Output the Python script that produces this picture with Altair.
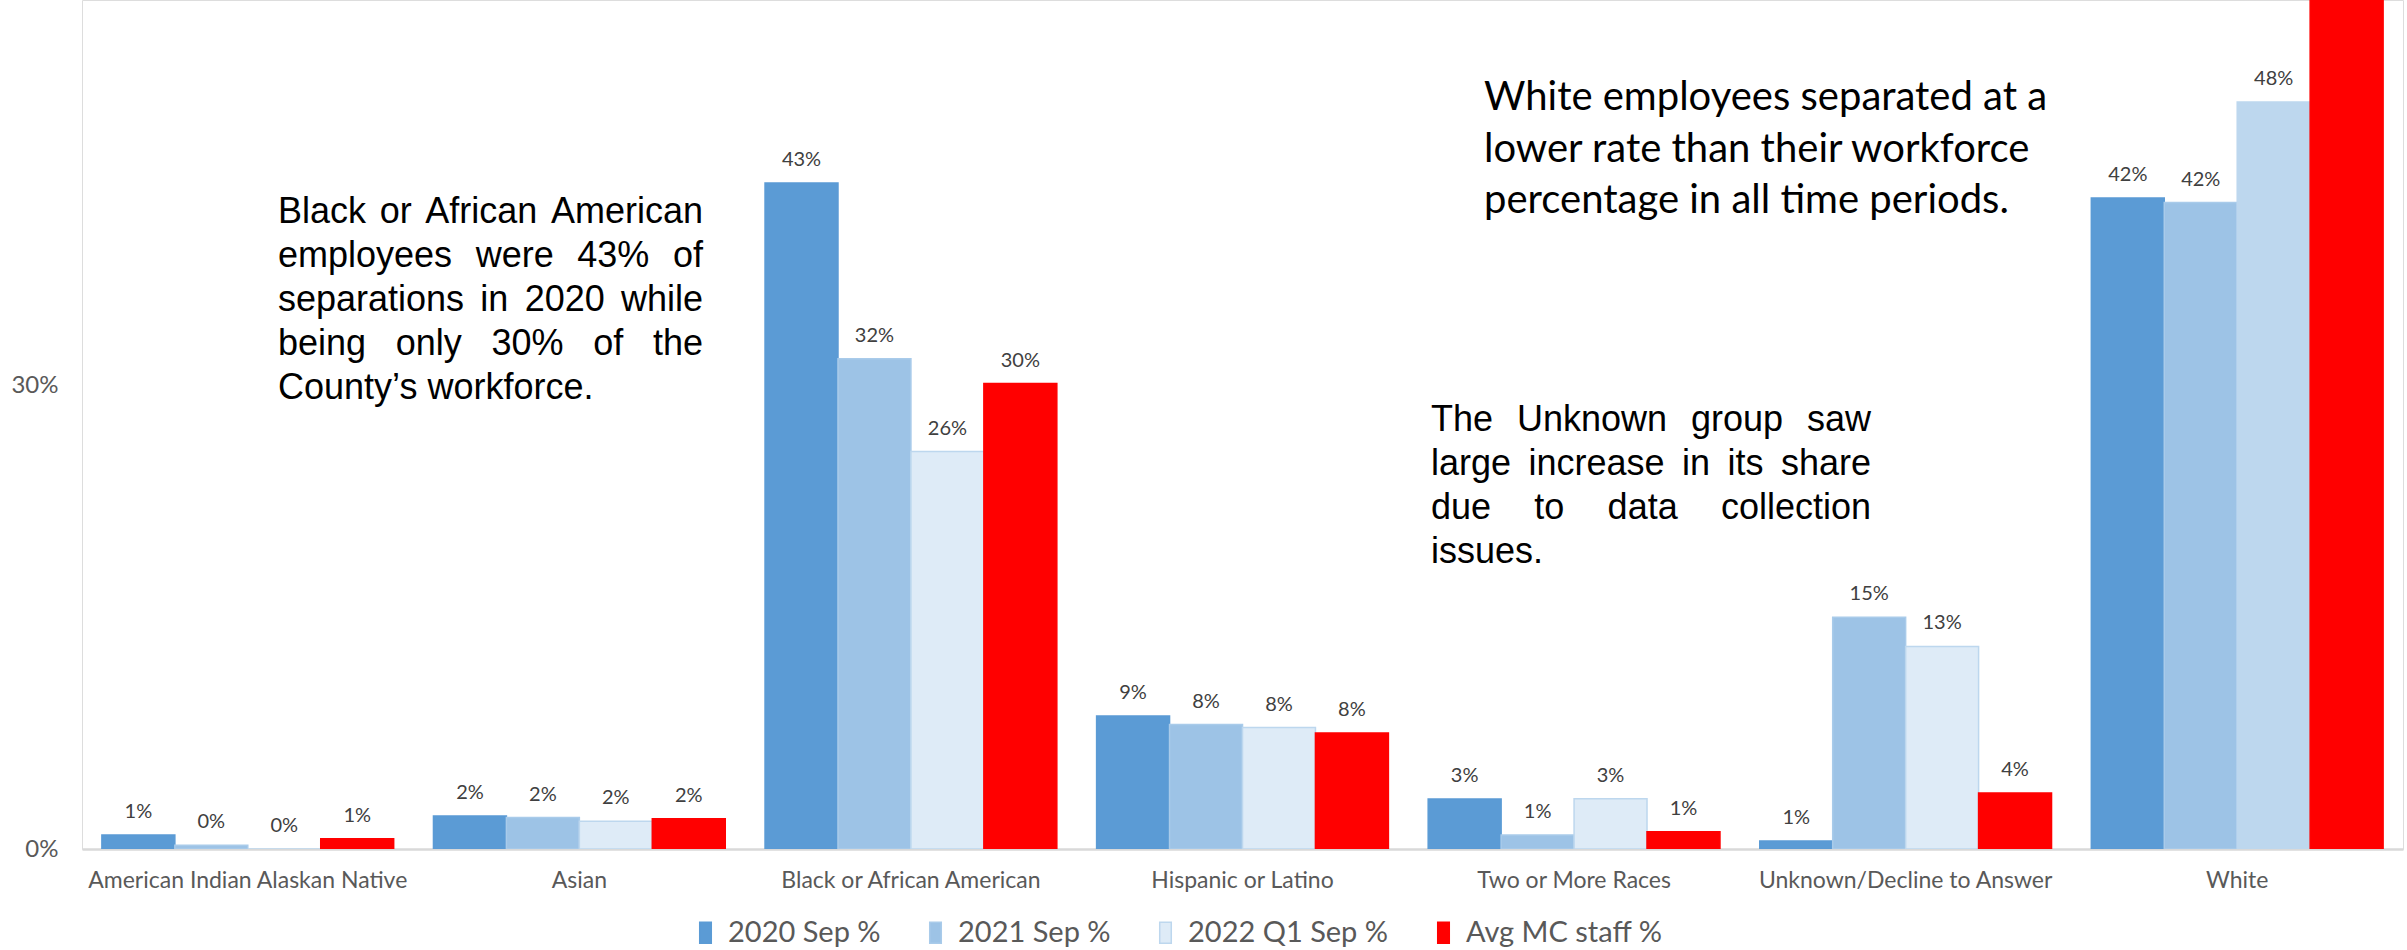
import altair as alt
import pandas as pd

# ---------------- data ----------------
categories = [
    "American Indian Alaskan Native",
    "Asian",
    "Black or African American",
    "Hispanic or Latino",
    "Two or More Races",
    "Unknown/Decline to Answer",
    "White",
]
series_names = ["2020 Sep %", "2021 Sep %", "2022 Q1 Sep %", "Avg MC staff %"]
sep_2020 = [0.9, 2.13, 43.07, 8.6, 3.23, 0.52, 42.1]
sep_2021 = [0.24, 2.03, 31.7, 8.05, 0.9, 14.98, 41.8]
sep_2022q1 = [0.0, 1.79, 25.7, 7.85, 3.25, 13.1, 48.3]
avg_staff = [0.67, 1.96, 30.1, 7.5, 1.12, 3.62, 55.0]
y_ticks = [0, 30]

note_black = [
    "Black or African American",
    "employees were 43% of",
    "separations in 2020 while",
    "being only 30% of the",
    "County\u2019s workforce.",
]
note_white = [
    "White employees separated at a",
    "lower rate than their workforce",
    "percentage in all time periods.",
]
note_unknown = [
    "The Unknown group saw",
    "large increase in its share",
    "due to data collection",
    "issues.",
]

# ---------------- styling ----------------
SANS = "Lato, sans-serif"
ARIAL = "Liberation Sans, Arial, sans-serif"
fills = ["#5B9BD5", "#9DC3E6", "#DEEBF7", "#FF0000"]
strokes = ["#5B9BD5", "#A9CBEA", "#BDD7EE", "#FF0000"]
Y_MAX = 54.9

rows = []
for s, vals in zip(series_names, [sep_2020, sep_2021, sep_2022q1, avg_staff]):
    for c, v in zip(categories, vals):
        rows.append({"category": c, "series": s, "value": v})
df = pd.DataFrame(rows)

# Arial / Liberation Sans advance widths (per 1000 em)
AW = {" ": 278, "%": 889, "\u2019": 222, ".": 278, ",": 278, "/": 278}
for ch in "0123456789":
    AW[ch] = 556
AW.update({"A": 667, "B": 667, "C": 722, "T": 611, "U": 722, "W": 944})
AW.update(dict(zip("abcdefghijklmnopqrstuvwxyz",
                   [556, 556, 500, 556, 556, 278, 556, 556, 222, 222, 500, 222, 833,
                    556, 556, 556, 556, 333, 500, 278, 556, 500, 722, 500, 500, 500])))


def text_w(s, size):
    return sum(AW.get(ch, 556) for ch in s) / 1000.0 * size


def justify(lines, left, right, first_base, step, size):
    out = []
    for i, line in enumerate(lines):
        yb = first_base + i * step
        words = line.split(" ")
        if i == len(lines) - 1 or len(words) == 1:
            out.append({"t": line, "px": left, "py": yb})
            continue
        ww = [text_w(w, size) for w in words]
        gap = (right - left - sum(ww)) / (len(words) - 1)
        xx = left
        for w, wd in zip(words, ww):
            out.append({"t": w, "px": xx, "py": yb})
            xx += wd + gap
    return out


# ---------------- chart ----------------
x_enc = alt.X(
    "category:N", sort=categories,
    scale=alt.Scale(paddingInner=0.12, paddingOuter=0.06),
    axis=alt.Axis(title=None, labelAngle=0, ticks=False, domainColor="#D9D9D9",
                  domainWidth=2.5, labelColor="#595959", labelFont=SANS,
                  labelFontSize=23, labelPadding=20, labelLimit=0),
)
xo_enc = alt.XOffset("series:N", sort=series_names,
                     scale=alt.Scale(paddingInner=0, paddingOuter=0))
y_enc = alt.Y(
    "value:Q",
    scale=alt.Scale(domain=[0, Y_MAX], nice=False, zero=True),
    axis=alt.Axis(title=None, values=y_ticks, grid=False, domain=False, ticks=False,
                  labelExpr="datum.value + '%'", labelColor="#595959",
                  labelFont=SANS, labelFontSize=24, labelPadding=24),
)

legend_cfg = dict(
    title=None, orient="none", legendX=609, legendY=918, direction="horizontal",
    symbolType="M-0.55,-1H0.55V1H-0.55Z", symbolSize=441, symbolStrokeWidth=1.5,
    labelFont=SANS, labelFontSize=29, labelColor="#595959", labelLimit=0,
    columnPadding=40, labelOffset=8,
)

bars = alt.Chart(df).mark_bar(clip=True, strokeWidth=1.5).encode(
    x=x_enc, xOffset=xo_enc, y=y_enc,
    fill=alt.condition(
        "datum.category === 'White' && datum.series === '2022 Q1 Sep %'",
        alt.value("#BDD7EE"),
        alt.Fill("series:N", sort=series_names,
                 scale=alt.Scale(domain=series_names, range=fills),
                 legend=alt.Legend(**legend_cfg)),
    ),
    stroke=alt.Stroke("series:N", sort=series_names,
                      scale=alt.Scale(domain=series_names, range=strokes),
                      legend=alt.Legend(**legend_cfg)),
)

# the label of the bar that runs past the top edge is cut off in the original
labels = alt.Chart(df).transform_filter(
    f"datum.value < {Y_MAX - 3}"
).transform_calculate(
    label="format(datum.value, '.0f') + '%'"
).mark_text(baseline="alphabetic", dy=-17, font=SANS, fontSize=20,
            color="#404040", clip=True).encode(
    x=x_enc, xOffset=xo_enc, y=y_enc, text="label:N"
)

base = alt.layer(bars, labels)

ann_df = pd.DataFrame(
    justify(note_black, 196, 621, 223, 44, 36) +
    justify(note_unknown, 1349, 1789, 431, 44, 36)
)
ann_arial = alt.Chart(ann_df).mark_text(
    align="left", baseline="alphabetic", font=ARIAL, fontSize=36, color="#000000"
).encode(
    x=alt.X("px:Q", scale=None, axis=None),
    y=alt.Y("py:Q", scale=None, axis=None),
    text="t:N",
)

white_df = pd.DataFrame({"t": note_white,
                         "px": [1402] * len(note_white),
                         "py": [110, 162, 213]})
ann_white = alt.Chart(white_df).mark_text(
    align="left", baseline="alphabetic", font="Lato", fontSize=40, color="#000000"
).encode(
    x=alt.X("px:Q", scale=None, axis=None),
    y=alt.Y("py:Q", scale=None, axis=None),
    text="t:N",
)

chart = alt.layer(base, ann_arial, ann_white).resolve_scale(
    x="independent", y="independent"
).properties(
    width=2321, height=849,
    padding={"left": 82, "top": 0, "right": 4, "bottom": 101},
    autosize=alt.AutoSizeParams(type="none"),
).configure_view(stroke=None).configure(background="#FFFFFF")

chart.save("out.html", embed_options={"renderer": "svg", "actions": False})
